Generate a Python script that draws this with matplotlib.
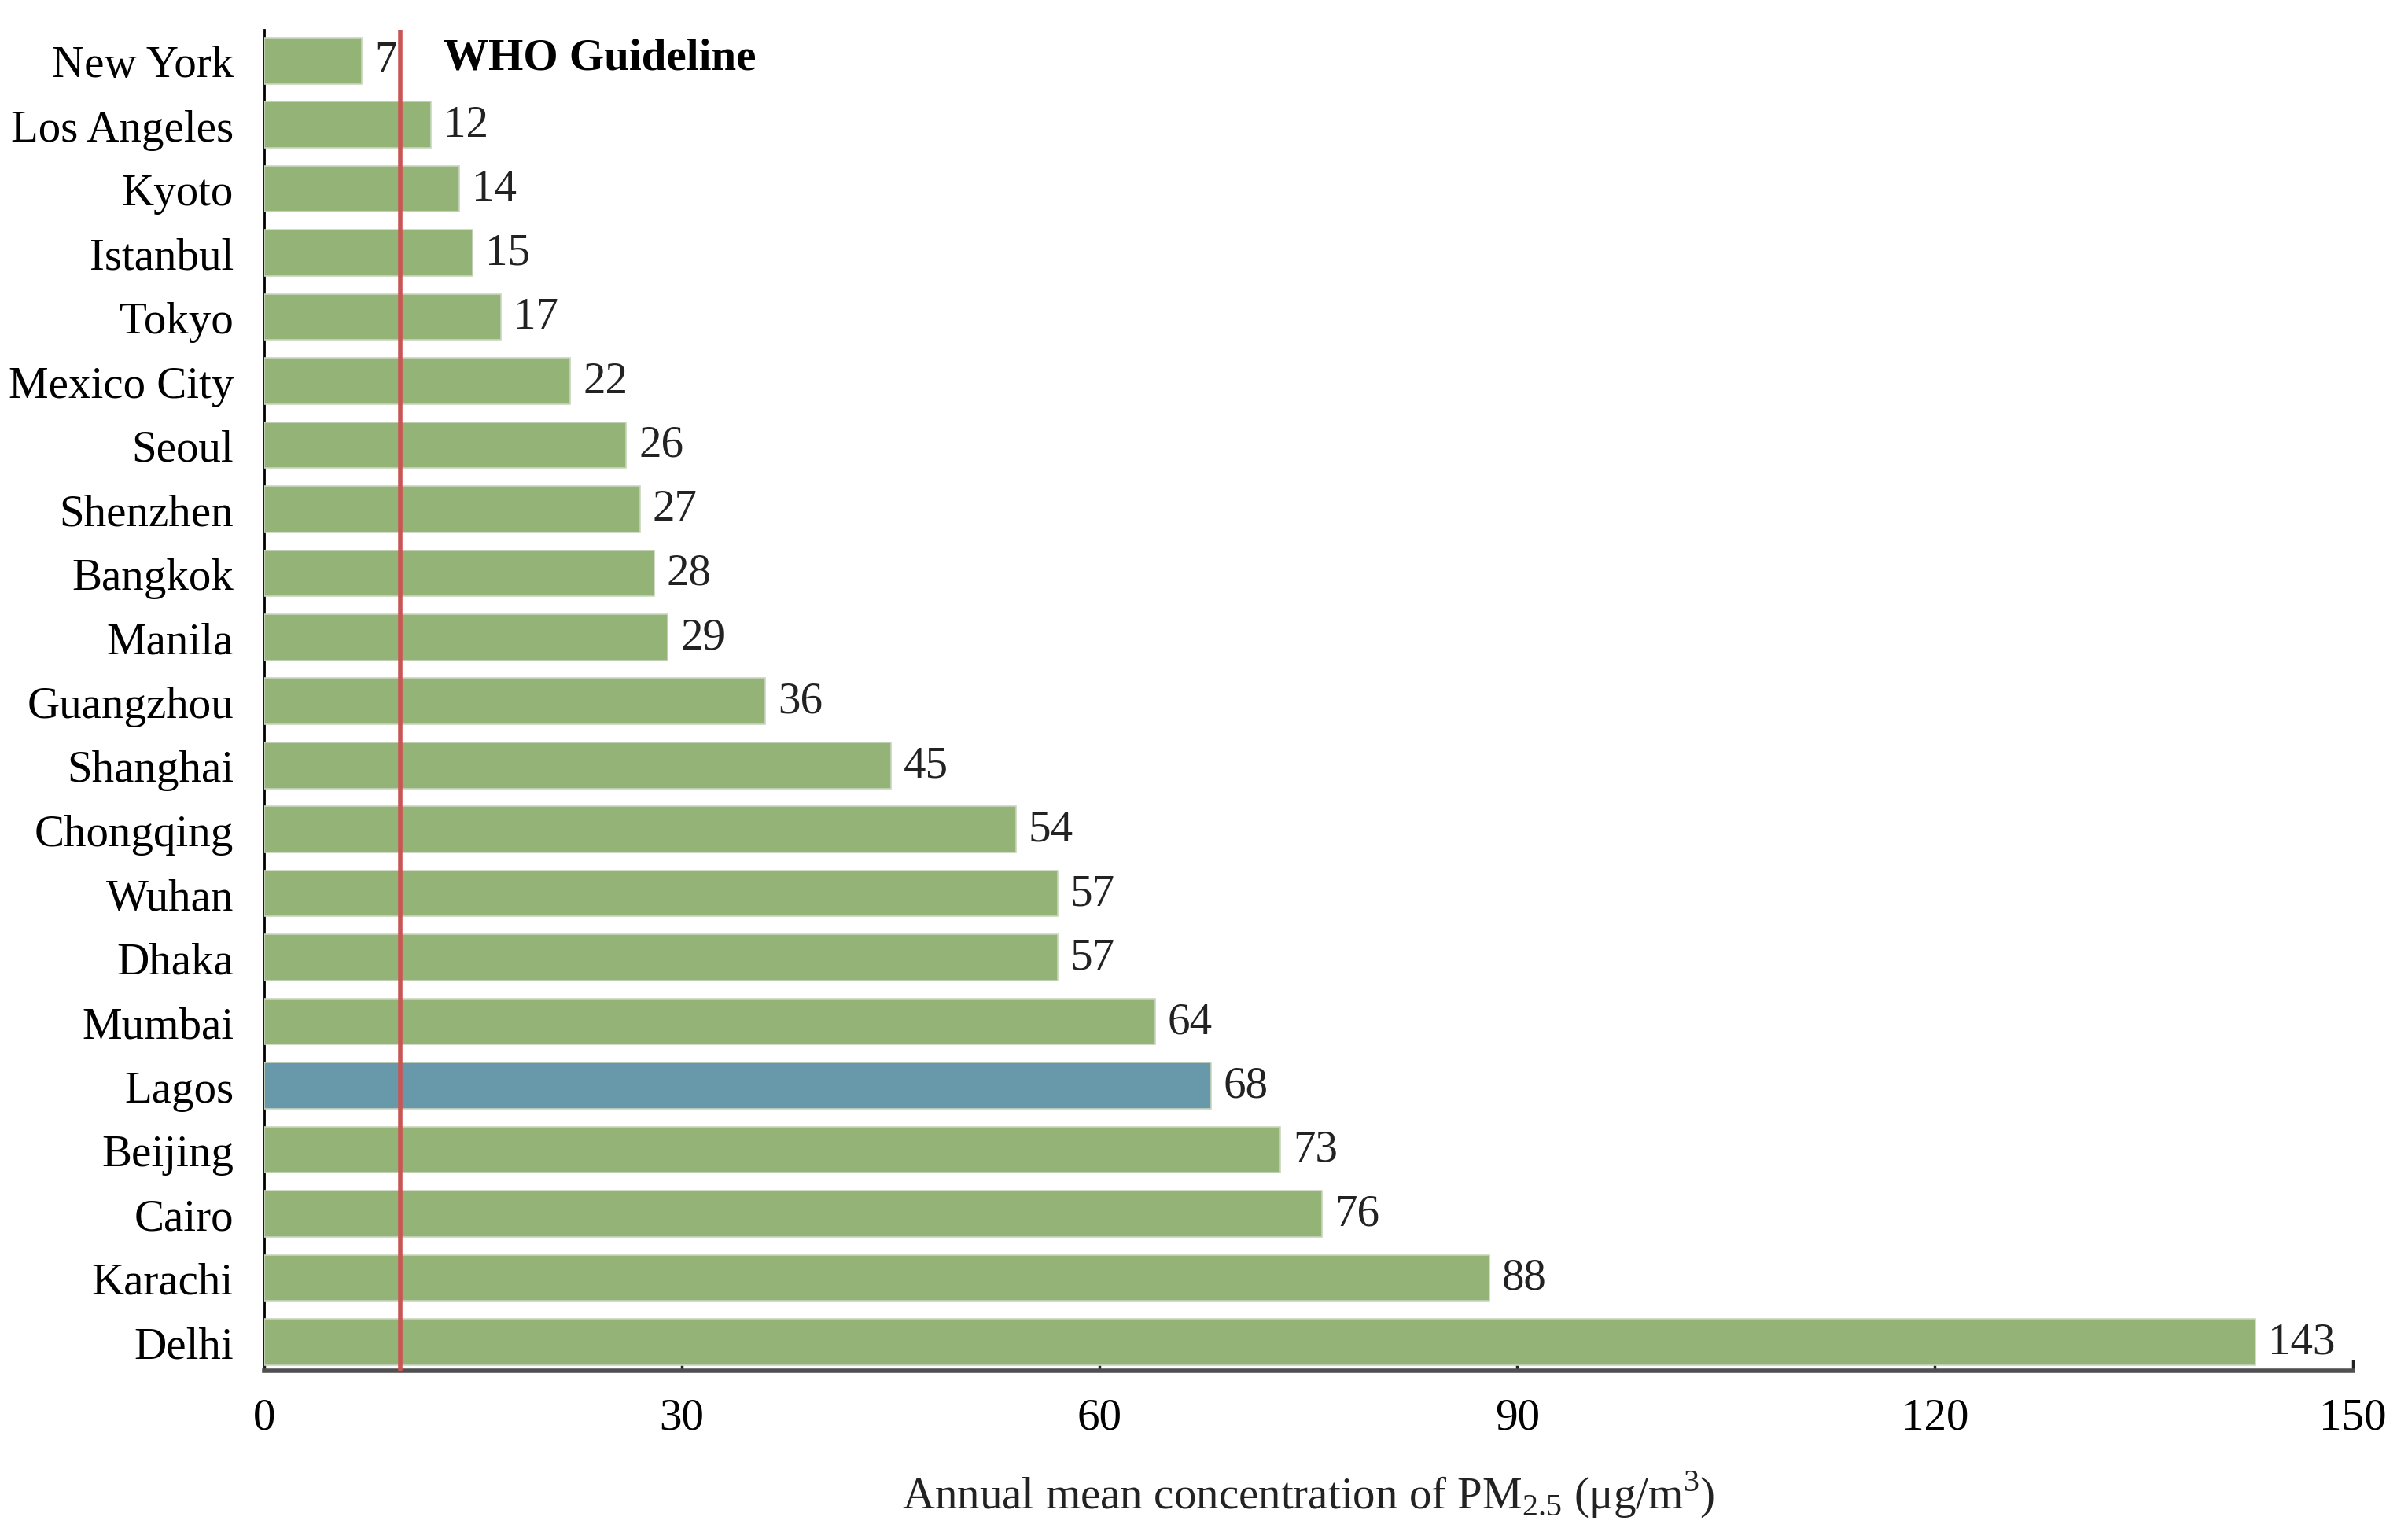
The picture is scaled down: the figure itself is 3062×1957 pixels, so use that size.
"""Annual mean PM2.5 by city, horizontal bars with WHO guideline line."""
import matplotlib
matplotlib.use("Agg")
import matplotlib.pyplot as plt

cities = ["New York", "Los Angeles", "Kyoto", "Istanbul", "Tokyo", "Mexico City",
          "Seoul", "Shenzhen", "Bangkok", "Manila", "Guangzhou", "Shanghai",
          "Chongqing", "Wuhan", "Dhaka", "Mumbai", "Lagos", "Beijing", "Cairo",
          "Karachi", "Delhi"]
pm25 = [7, 12, 14, 15, 17, 22, 26, 27, 28, 29, 36, 45, 54, 57, 57, 64, 68, 73, 76, 88, 143]
highlight = "Lagos"
who_guideline = 9.8
xticks = [0, 30, 60, 90, 120, 150]

GREEN = "#93b377"
BLUE = "#6799aa"
RED = "#c95555"

plt.rcParams["font.family"] = ["Liberation Serif", "DejaVu Serif"]
plt.rcParams["mathtext.fontset"] = "custom"
plt.rcParams["mathtext.rm"] = "Liberation Serif"

fig = plt.figure(figsize=(30.62, 19.58), dpi=100)
ax = fig.add_axes([0.1097, 0.1093, 0.977 - 0.1097, 0.980 - 0.1093])

n = len(cities)
ypos = [n - 1 - i for i in range(n)]
colors = [BLUE if c == highlight else GREEN for c in cities]
ax.barh(ypos, pm25, height=0.72, color=colors, edgecolor="#c9d6bf", lw=1.2, zorder=2)

for y, v in zip(ypos, pm25):
    ax.text(v + 0.9, y, str(v), va="center", ha="left", fontsize=41, color="#222222", zorder=4)

# WHO guideline
ax.axvline(who_guideline, color=RED, lw=4, zorder=3)
ax.text(who_guideline + 3.1, n - 1 + 0.05, "WHO Guideline", fontsize=41,
        fontweight="bold", va="center", ha="left", color="black")

ax.set_xlim(0, 150)
ax.set_ylim(-0.45, n - 1 + 0.48)
ax.set_yticks(ypos)
ax.set_yticklabels(cities, fontsize=41)
ax.set_xticks(xticks)
ax.set_xticklabels([str(t) for t in xticks], fontsize=41)
ax.tick_params(axis="y", length=0, pad=28)
ax.tick_params(axis="x", direction="in", length=10, width=2.5, color="#222222", pad=24)

ax.spines["top"].set_visible(False)
ax.spines["right"].set_visible(False)
ax.spines["left"].set_color("black")
ax.spines["left"].set_linewidth(2)
ax.spines["left"].set_zorder(1)
ax.spines["bottom"].set_color("#505050")
ax.spines["bottom"].set_linewidth(4)

ax.set_xlabel(r"Annual mean concentration of PM$_{2.5}$ ($\mathrm{\mu}$g/m$^3$)",
              fontsize=41, color="#222222", labelpad=28)

fig.savefig("out.png", dpi=100)
